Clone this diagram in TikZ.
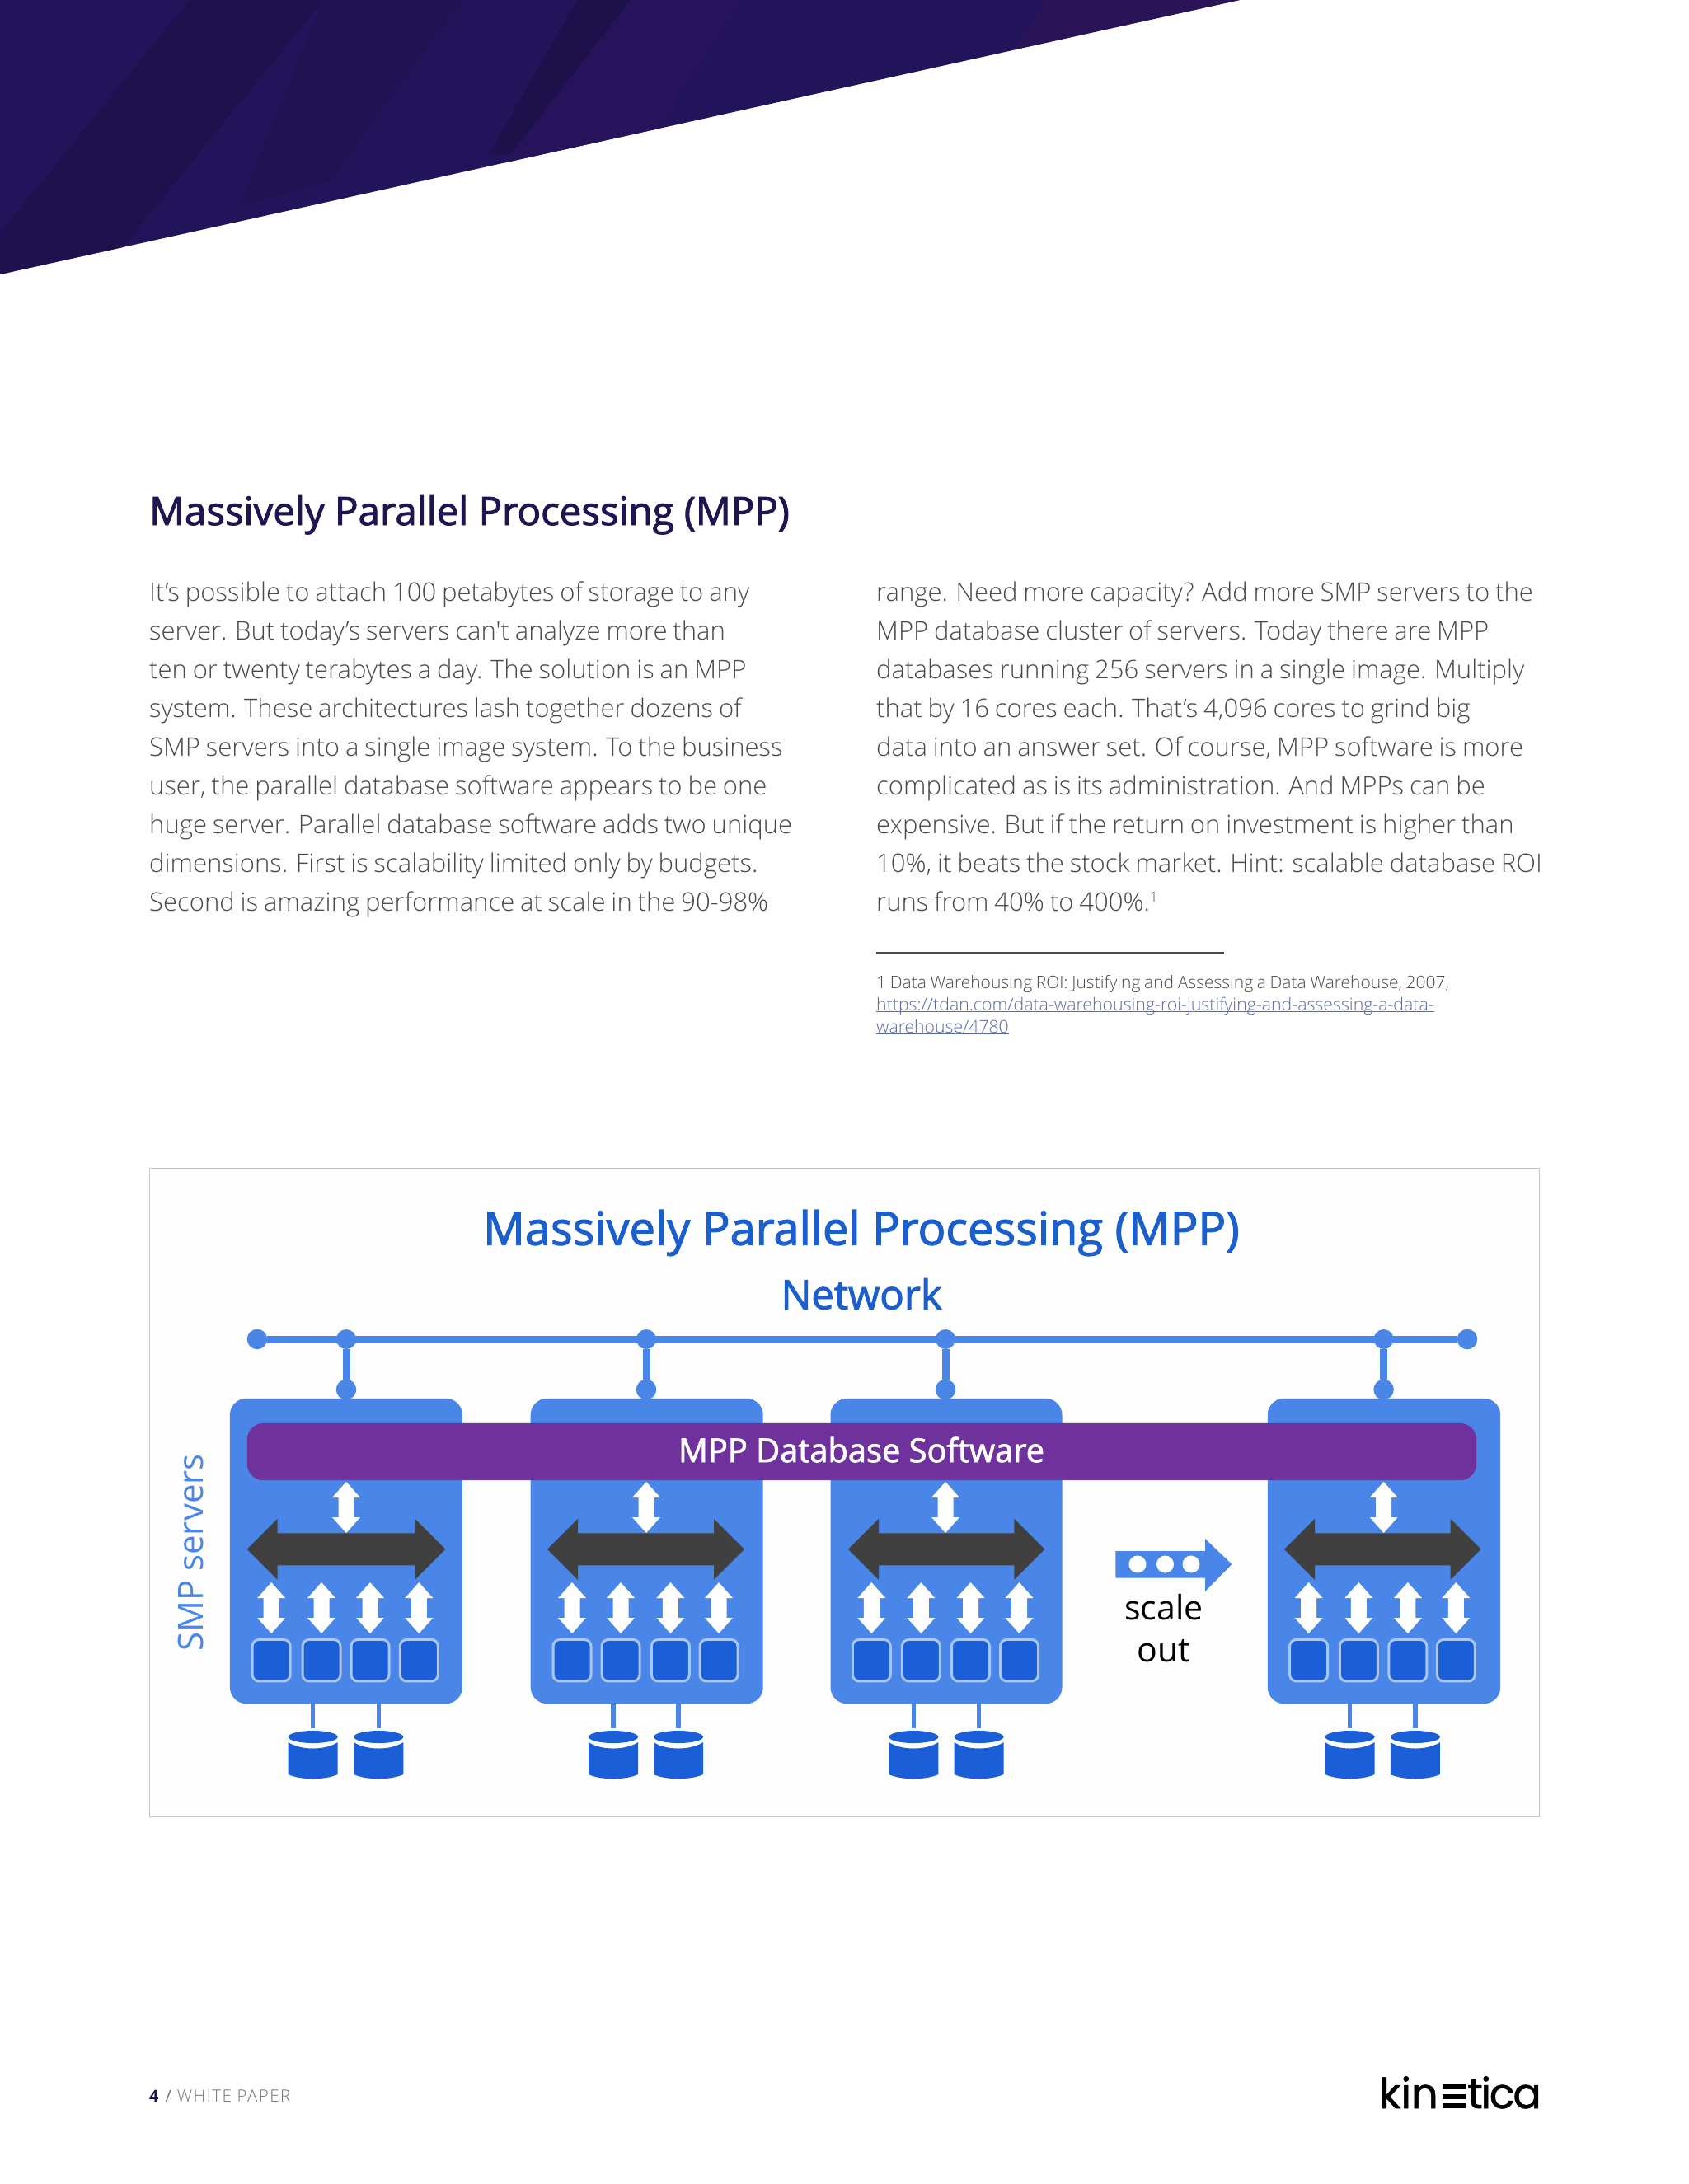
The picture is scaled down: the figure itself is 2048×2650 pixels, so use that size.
\documentclass[tikz,border=0pt]{standalone}
\usepackage{fontspec}
\setmainfont{Open Sans}
\newfontfamily\oslight{Open Sans Light}[WordSpace=0.85]
\newfontfamily\osfoot{Open Sans Light}[LetterSpace=7]
\newfontfamily\ossemi{Open Sans}[FakeBold=2]
\newfontfamily\logofont{Poppins}[FakeBold=1]
\newfontfamily\logofontb{Poppins}[FakeBold=1,LetterSpace=-4.5]
\definecolor{navy}{HTML}{1E1650}
\definecolor{bodytxt}{HTML}{4A4A4A}
\definecolor{linkc}{HTML}{5A6AA8}
\definecolor{srv}{HTML}{4A86E8}
\definecolor{core}{HTML}{1A5FD8}
\definecolor{coreedge}{HTML}{A9C6F5}
\definecolor{dbar}{HTML}{404040}
\definecolor{purp}{HTML}{6F329C}
\definecolor{title}{HTML}{1A5FCB}
\definecolor{ban}{HTML}{22145A}
\tikzset{
  x=1pt,y=-1pt,
  bodycol/.style={anchor=north west,align=left,inner sep=0pt,text=bodytxt,font=\oslight\fontsize{31.05}{47}\selectfont},
  foot/.style={anchor=north west,align=left,inner sep=0pt,text=bodytxt,font=\oslight\fontsize{21}{27}\selectfont},
  srvbox/.style={fill=srv,rounded corners=20pt,inner sep=0pt},
  netdot/.style={circle,fill=srv,inner sep=0pt,minimum size=#1},
  netline/.style={draw=srv,line width=#1},
  corebox/.style={fill=core,draw=coreedge,line width=3pt,rounded corners=8pt,inner sep=0pt,minimum width=46pt,minimum height=50.5pt},
  pics/vdbl/.style={code={
    \fill[white] (0,0) -- (17,19) -- (9.5,19) -- (9.5,43) -- (17,43) -- (0,62) -- (-17,43) -- (-9.5,43) -- (-9.5,19) -- (-17,19) -- cycle;
  }},
  pics/hbar/.style={code={
    \fill[dbar] (0,0) -- (37,-37) -- (37,-19.5) -- (#1-37,-19.5) -- (#1-37,-37) -- (#1,0) -- (#1-37,37) -- (#1-37,19.5) -- (37,19.5) -- (37,37) -- cycle;
  }},
  pics/cyl/.style={code={
    \fill[core] (0,7.5) ellipse [x radius=#1,y radius=7.5];
    \fill[core] (-#1,14) .. controls (-#1*0.5,24) and (#1*0.5,24) .. (#1,14) -- (#1,53) .. controls (#1*0.5,60) and (-#1*0.5,60) .. (-#1,53) -- cycle;
  }},
}
\begin{document}
\begin{tikzpicture}
\useasboundingbox (0,0) rectangle (2048,2650);
\fill[white] (0,0) rectangle (2048,2650);
% banner
\begin{scope}
\clip (0,0) -- (1504,0) -- (0,333) -- cycle;
\fill[ban] (0,0) rectangle (1504,333);
\fill[black!13!ban] (230,0) -- (392,0) -- (122,333) -- (-41,333) -- cycle;
\fill[black!7!ban] (392,0) -- (560,0) -- (400,220) -- (290,250) -- cycle;
\fill[black!15!ban] (700,0) -- (765,0) -- (622,187) -- (593,187) -- cycle;
\fill[violet!5!ban] (765,0) -- (900,0) -- (790,170) -- (610,200) -- cycle;
\fill[purple!6!ban] (1270,0) -- (1504,0) -- (1230,60) -- cycle;
\end{scope}
% text
\node[anchor=base west,inner sep=0pt,text=navy,font=\ossemi\fontsize{47.4}{48}\selectfont] (head) at (181,637) {Massively Parallel Processing (MPP)};
\node[bodycol] (col1) at (181,706) {It’s possible to attach 100 petabytes of storage to any\\server. But today’s servers can't analyze more than\\ten or twenty terabytes a day. The solution is an MPP\\system. These architectures lash together dozens of\\SMP servers into a single image system. To the business\\user, the parallel database software appears to be one\\huge server. Parallel database software adds two unique\\dimensions. First is scalability limited only by budgets.\\Second is amazing performance at scale in the 90-98\%};
\node[bodycol] (col2) at (1063,706) {range. Need more capacity? Add more SMP servers to the\\MPP database cluster of servers. Today there are MPP\\databases running 256 servers in a single image. Multiply\\that by 16 cores each. That’s 4,096 cores to grind big\\data into an answer set. Of course, MPP software is more\\complicated as is its administration. And MPPs can be\\expensive. But if the return on investment is higher than\\10\%, it beats the stock market. Hint: scalable database ROI\\runs from 40\% to 400\%.\raisebox{0.38em}{\fontsize{17}{17}\selectfont 1}};
\coordinate (ruleL) at (1063,1156);
\coordinate (ruleR) at (1485,1156);
\draw[draw=bodytxt,line width=1.2pt] (ruleL) -- (ruleR);
\node[foot] (fn) at (1063,1183) {1 Data Warehousing ROI: Justifying and Assessing a Data Warehouse, 2007,\\{\color{linkc}\fontsize{21.3}{27}\selectfont\underline{\smash{https://tdan.com/data-warehousing-roi-justifying-and-assessing-a-data-}}}\\{\color{linkc}\fontsize{21.2}{27}\selectfont\underline{\smash{warehouse/4780}}}};
% frame
\node[anchor=north west,inner sep=0pt,draw=black!22,fill=black!0.5,line width=1pt,minimum width=1686pt,minimum height=787pt] (frame) at (180.5,1416.5) {};
\node[text=title,inner sep=0pt,font=\ossemi\fontsize{56}{56}\selectfont] (t1) at (1045,1496) {Massively Parallel Processing (MPP)};
\node[text=title,inner sep=0pt,font=\ossemi\fontsize{49}{49}\selectfont] (t2) at (1045,1570) {Network};
\node[text=srv,inner sep=0pt,rotate=90,font=\fontsize{42}{42}\selectfont] (smp) at (231,1884) {SMP servers};
% servers
\foreach \i/\l/\w/\n/\hl/\hw/\a/\b/\c/\d/\ca/\cb/\cw in {
 1/278.7/282/420/299.6/240.8/329.2/390/449/508.3/379.7/459.3/30,
 2/643.5/282/784/664/239/694/753/813.4/872/744/823/30,
 3/1007.3/281/1147/1029/238.4/1057.3/1117.4/1177.5/1236.5/1108.4/1187.6/30,
 4/1537.6/282.4/1678.6/1558/238.6/1587.6/1648.3/1707.9/1766.3/1637.6/1716.9/30}{
  \node[srvbox,anchor=north west,minimum width=\w pt,minimum height=370.4pt] (box\i) at (\l,1696.6) {};
  \coordinate (sa\i) at (\ca,2067);
  \coordinate (sb\i) at (\cb,2067);
  \coordinate (ea\i) at (\ca,2097);
  \coordinate (eb\i) at (\cb,2097);
  \draw[netline=5.5pt] (sa\i) -- (ea\i);
  \draw[netline=5.5pt] (sb\i) -- (eb\i);
  \pic at (\ca,2100) {cyl=\cw};
  \pic at (\cb,2100) {cyl=\cw};
}
\node[fill=purp,rounded corners=20pt,anchor=north west,inner sep=0pt,minimum width=1491.4pt,minimum height=69.3pt] (bar) at (299.6,1726.7) {};
\node[text=white,inner sep=0pt,font=\ossemi\fontsize{39.8}{39.8}\selectfont] (bartxt) at (1045,1759) {MPP Database Software};
\foreach \i/\n/\hl/\hw/\a/\b/\c/\d in {
 1/420/299.6/240.8/329.2/390/449/508.3,
 2/784/664/239/694/753/813.4/872,
 3/1147/1029/238.4/1057.3/1117.4/1177.5/1236.5,
 4/1678.6/1558/238.6/1587.6/1648.3/1707.9/1766.3}{
  \pic at (\n,1798) {vdbl};
  \pic at (\hl,1879.8) {hbar=\hw};
  \foreach \k in {\a,\b,\c,\d}{
    \pic at (\k,1920) {vdbl};
    \node[corebox] at (\k,2014.7) {};
  }
}
% network
\node[netdot=24.5pt] (netL) at (312,1625) {};
\node[netdot=24.5pt] (netR) at (1780,1625) {};
\draw[netline=9pt] (netL) -- (netR);
\foreach \i/\n in {1/420,2/784,3/1147,4/1678.6}{
  \node[netdot=24pt] (net\i) at (\n,1625) {};
  \node[netdot=24.5pt] (drop\i) at (\n,1686) {};
  \draw[netline=9pt] (net\i) -- (drop\i);
}
% scale out
\fill[srv] (1353.4,1882) -- (1462,1882) -- (1462,1867) -- (1494.4,1898) -- (1462,1931) -- (1462,1914.5) -- (1353.4,1914.5) -- cycle;
\node[circle,fill=white,inner sep=0pt,minimum size=21pt] (d1) at (1380,1898) {};
\node[circle,fill=white,inner sep=0pt,minimum size=21pt] (d2) at (1413.5,1898) {};
\node[circle,fill=white,inner sep=0pt,minimum size=21pt] (d3) at (1445,1898) {};
\node[inner sep=0pt,anchor=base,font=\fontsize{41}{41}\selectfont] (so1) at (1412,1965) {scale};
\node[inner sep=0pt,anchor=base,font=\fontsize{41}{41}\selectfont] (so2) at (1412,2016) {out};
% footer
\node[anchor=base west,inner sep=0pt,font=\fontsize{20}{20}\selectfont,text=black!55] (ft) at (181,2550) {\textcolor{navy}{\textbf{4}}\hspace{8pt}/\hspace{7pt}{\osfoot\fontsize{20.5}{20}\selectfont WHITE PAPER}};
% logo
\node[anchor=base west,inner sep=0pt,font=\logofont\fontsize{51}{51}\selectfont] (logo1) at (1673,2558) {kin};
\fill (1750,2529) rectangle (1778,2535);
\fill (1750,2541) rectangle (1778,2547);
\fill (1750,2552) rectangle (1778,2558);
\node[anchor=base east,inner sep=0pt,font=\logofontb\fontsize{51}{51}\selectfont] (logo2) at (1870,2558) {tica};
\end{tikzpicture}
\end{document}
